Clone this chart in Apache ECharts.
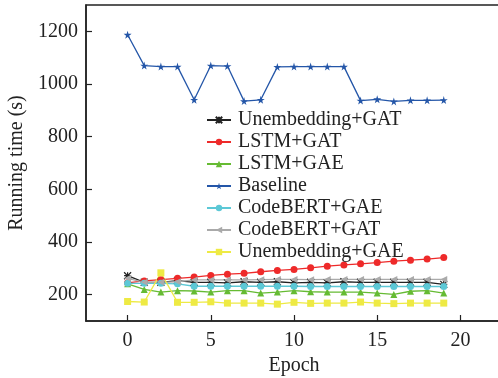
<!DOCTYPE html>
<html>
<head>
<meta charset="utf-8">
<script src="https://cdn.jsdelivr.net/npm/echarts@6/dist/echarts.min.js"></script>
<style>
  html, body { margin: 0; padding: 0; background: #fff; }
  #runningTimeChart { width: 498px; height: 378px; }
</style>
</head>
<body>
<div id="runningTimeChart"></div>
<script>
// epochs on the x axis
const epochs = [0, 1, 2, 3, 4, 5, 6, 7, 8, 9, 10, 11, 12, 13, 14, 15, 16, 17, 18, 19];
const xTicks = [0, 5, 10, 15, 20];
const yTicks = [200, 400, 600, 800, 1000, 1200];

const seriesNames = ['Unembedding+GAT', 'LSTM+GAT', 'LSTM+GAE', 'Baseline', 'CodeBERT+GAE', 'CodeBERT+GAT', 'Unembedding+GAE'];

const unembeddingGat = [272, 247, 247, 253, 247, 247, 245, 249, 247, 249, 245, 247, 245, 249, 247, 247, 247, 247, 247, 239];
const lstmGat = [245, 252, 257, 262, 267, 273, 278, 281, 287, 292, 296, 302, 308, 313, 317, 322, 327, 331, 335, 341];
const lstmGae = [241, 220, 210, 215, 214, 210, 215, 215, 206, 210, 215, 211, 210, 210, 210, 206, 201, 213, 215, 206];
const baseline = [1187, 1070, 1066, 1066, 940, 1070, 1068, 935, 940, 1065, 1066, 1066, 1066, 1066, 937, 942, 934, 938, 938, 939];
const codebertGae = [243, 243, 243, 241, 232, 232, 232, 232, 232, 232, 232, 231, 231, 231, 231, 231, 231, 231, 231, 231];
const codebertGat = [262, 247, 247, 249, 256, 256, 256, 256, 257, 258, 258, 257, 258, 258, 258, 258, 258, 258, 258, 258];
const unembeddingGae = [174, 172, 283, 171, 171, 173, 168, 168, 168, 164, 171, 167, 168, 168, 172, 168, 166, 168, 168, 168];

const allValues = [unembeddingGat, lstmGat, lstmGae, baseline, codebertGae, codebertGat, unembeddingGae];
const colors = ['#222222', '#ee2a2a', '#66bb33', '#2456a8', '#5cc8d6', '#aaaaaa', '#eeea44'];
const symbols = [
  'path://M0,0L10,10M10,0L0,10M5,0L5,10M0,5L10,5',
  'circle',
  'triangle',
  'path://M50,0L61,35L98,35L68,57L79,91L50,70L21,91L32,57L2,35L39,35Z',
  'circle',
  'path://M0,5L10,0L10,10Z',
  'rect'
];
const symbolSizes = [7, 7, 7, 8, 7, 7, 7];

const fontFamily = '"Liberation Serif", "Times New Roman", serif';
const textColor = '#222';

let myChart = echarts.init(document.getElementById('runningTimeChart'));

let series = seriesNames.map(function (name, k) {
  return {
    name: name,
    type: 'line',
    symbol: symbols[k],
    symbolSize: symbolSizes[k],
    color: colors[k],
    lineStyle: { width: 1.3, color: colors[k] },
    itemStyle: { color: colors[k], borderColor: colors[k], borderWidth: k === 0 ? 1.2 : 0 },
    z: k === 3 ? 3 : 2,
    data: epochs.map(function (e, i) { return [e, allValues[k][i]]; })
  };
});

myChart.setOption({
  animation: false,
  backgroundColor: '#fff',
  textStyle: { fontFamily: fontFamily, color: textColor },
  grid: {
    left: 86,
    top: 5,
    width: 416,
    height: 316,
    outerBoundsMode: 'none',
    containLabel: false,
    show: true,
    borderColor: textColor,
    borderWidth: 1.5,
    backgroundColor: 'transparent'
  },
  legend: {
    orient: 'vertical',
    left: 206,
    top: 110,
    padding: 0,
    itemGap: 2,
    itemWidth: 24,
    itemHeight: 8,
    textStyle: { fontFamily: fontFamily, fontSize: 20, color: textColor, lineHeight: 20, padding: [0, 0, 0, 2] },
    data: seriesNames
  },
  xAxis: {
    type: 'value',
    min: -2.5,
    max: 22.5,
    name: 'Epoch',
    nameLocation: 'middle',
    nameGap: 34,
    nameTextStyle: { fontFamily: fontFamily, fontSize: 20, color: textColor },
    axisLine: { show: true, onZero: false, lineStyle: { color: textColor, width: 1.5 } },
    axisTick: { show: true, inside: true, length: 6, customValues: xTicks, lineStyle: { color: textColor, width: 1.2 } },
    axisLabel: { customValues: xTicks, margin: 10, fontFamily: fontFamily, fontSize: 20, color: textColor },
    splitLine: { show: false }
  },
  yAxis: {
    type: 'value',
    min: 100,
    max: 1300,
    name: 'Running time (s)',
    nameLocation: 'middle',
    nameGap: 58,
    nameTextStyle: { fontFamily: fontFamily, fontSize: 20, color: textColor },
    axisLine: { show: true, onZero: false, lineStyle: { color: textColor, width: 1.5 } },
    axisTick: { show: true, inside: true, length: 6, customValues: yTicks, lineStyle: { color: textColor, width: 1.2 } },
    axisLabel: {
      customValues: yTicks,
      margin: 8,
      fontFamily: fontFamily,
      fontSize: 20,
      color: textColor,
      formatter: function (v) { return String(v); }
    },
    splitLine: { show: false }
  },
  series: series
});
</script>
</body>
</html>
